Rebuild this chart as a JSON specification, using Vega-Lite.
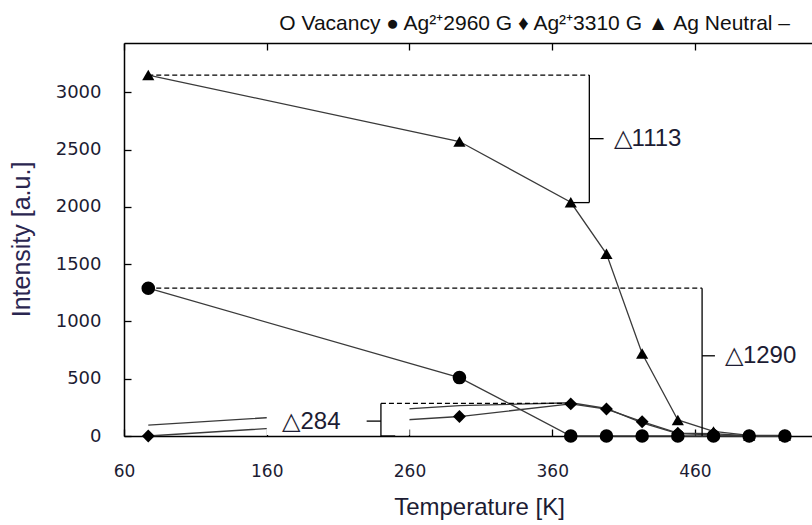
{
  "$schema": "https://vega.github.io/schema/vega-lite/v6.json",
  "autosize": "none",
  "width": 688,
  "height": 393,
  "padding": {"left": 124, "top": 43, "right": 0, "bottom": 89},
  "background": "white",
  "config": {
    "view": {"stroke": null},
    "axis": {"grid": false, "domainColor": "#000", "domainWidth": 1.5, "tickColor": "#000", "tickWidth": 1.3, "zindex": 1}
  },
  "title": {
    "text": "O Vacancy ● Ag²⁺2960 G ♦ Ag²⁺3310 G ▲  Ag Neutral –",
    "anchor": "end", "frame": "group", "dx": -22, "dy": 23,
    "font": "Liberation Sans", "fontSize": 21, "fontWeight": "normal",
    "color": "#111", "baseline": "alphabetic", "offset": 14
  },
  "datasets": {
    "series": [
      {"s": "O Vacancy", "T": 77, "I": 1290},
      {"s": "O Vacancy", "T": 295, "I": 510},
      {"s": "O Vacancy", "T": 373, "I": 0},
      {"s": "O Vacancy", "T": 398, "I": 0},
      {"s": "O Vacancy", "T": 423, "I": 0},
      {"s": "O Vacancy", "T": 448, "I": 0},
      {"s": "O Vacancy", "T": 473, "I": 0},
      {"s": "O Vacancy", "T": 498, "I": 0},
      {"s": "O Vacancy", "T": 523, "I": 0},
      {"s": "Ag2+ 2960 G", "T": 77, "I": 0},
      {"s": "Ag2+ 2960 G", "T": 295, "I": 170},
      {"s": "Ag2+ 2960 G", "T": 373, "I": 280},
      {"s": "Ag2+ 2960 G", "T": 398, "I": 235},
      {"s": "Ag2+ 2960 G", "T": 423, "I": 125},
      {"s": "Ag2+ 2960 G", "T": 448, "I": 25},
      {"s": "Ag2+ 2960 G", "T": 473, "I": 20},
      {"s": "Ag2+ 2960 G", "T": 498, "I": 0},
      {"s": "Ag2+ 2960 G", "T": 523, "I": 0},
      {"s": "Ag2+ 3310 G", "T": 77, "I": 3150},
      {"s": "Ag2+ 3310 G", "T": 295, "I": 2570},
      {"s": "Ag2+ 3310 G", "T": 373, "I": 2040},
      {"s": "Ag2+ 3310 G", "T": 398, "I": 1590},
      {"s": "Ag2+ 3310 G", "T": 423, "I": 720},
      {"s": "Ag2+ 3310 G", "T": 448, "I": 140},
      {"s": "Ag2+ 3310 G", "T": 473, "I": 40},
      {"s": "Ag2+ 3310 G", "T": 498, "I": 5},
      {"s": "Ag2+ 3310 G", "T": 523, "I": 5},
      {"s": "Ag Neutral", "T": 77, "I": 95},
      {"s": "Ag Neutral", "T": 295, "I": 265},
      {"s": "Ag Neutral", "T": 373, "I": 290},
      {"s": "Ag Neutral", "T": 398, "I": 240},
      {"s": "Ag Neutral", "T": 423, "I": 115},
      {"s": "Ag Neutral", "T": 448, "I": 20},
      {"s": "Ag Neutral", "T": 473, "I": 10},
      {"s": "Ag Neutral", "T": 498, "I": 0},
      {"s": "Ag Neutral", "T": 523, "I": 0}
    ],
    "mask": [{"x": 160, "x2": 260, "y": 8, "y2": 330}],
    "solid": [
      {"x": 386, "x2": 386, "y": 3150, "y2": 2037},
      {"x": 386, "x2": 396, "y": 2595, "y2": 2595},
      {"x": 373, "x2": 386, "y": 2037, "y2": 2037},
      {"x": 465, "x2": 465, "y": 1290, "y2": 0},
      {"x": 465, "x2": 474, "y": 700, "y2": 700},
      {"x": 240, "x2": 240, "y": 284, "y2": 0},
      {"x": 230, "x2": 240, "y": 130, "y2": 130},
      {"x": 240, "x2": 250, "y": 0, "y2": 0}
    ],
    "dashed": [
      {"x": 77, "x2": 386, "y": 3150, "y2": 3150},
      {"x": 77, "x2": 465, "y": 1290, "y2": 1290},
      {"x": 240, "x2": 373, "y": 284, "y2": 284}
    ],
    "labels": [
      {"x": 403, "y": 2590, "t": "△1113"},
      {"x": 481, "y": 700, "t": "△1290"},
      {"x": 171, "y": 122, "t": "△284"}
    ]
  },
  "resolve": {"axis": {"x": "independent"}},
  "layer": [
    {
      "data": {"name": "series"},
      "mark": {"type": "line", "color": "#3a3a3a", "strokeWidth": 1.3},
      "encoding": {
        "x": {"field": "T", "type": "quantitative", "scale": {"domain": [60, 542], "nice": false, "zero": false},
          "axis": {"orient": "bottom", "values": [60, 160, 260, 360, 460], "format": "d", "tickSize": -7, "labelPadding": 34,
            "labelFont": "DejaVu Sans", "labelFontSize": 17, "labelColor": "#1c1c33", "labelFlush": false,
            "title": "Temperature [K]", "titleFont": "Liberation Sans", "titleFontSize": 24, "titleFontWeight": "normal",
            "titleColor": "#1c1c33", "titleX": 355, "titleY": 78, "titleBaseline": "alphabetic", "titleAlign": "center"}},
        "y": {"field": "I", "type": "quantitative", "scale": {"domain": [0, 3430], "nice": false},
          "axis": {"values": [0, 500, 1000, 1500, 2000, 2500, 3000], "format": "d", "tickSize": -7, "labelPadding": 30,
            "labelFont": "DejaVu Sans", "labelFontSize": 18, "labelColor": "#1c1c33",
            "title": "Intensity [a.u.]", "titleFont": "Liberation Sans", "titleFontSize": 25, "titleFontWeight": "normal",
            "titleColor": "#2a2650", "titleX": -95, "titleY": 196, "titleBaseline": "alphabetic", "titleAlign": "center", "titleAngle": -90}},
        "detail": {"field": "s"},
        "order": {"field": "T", "type": "quantitative"}
      }
    },
    {
      "data": {"name": "series"},
      "mark": {"type": "point", "filled": true, "opacity": 1, "color": "#000", "stroke": "#000"},
      "encoding": {
        "x": {"field": "T", "type": "quantitative", "axis": null},
        "y": {"field": "I", "type": "quantitative"},
        "shape": {"field": "s", "type": "nominal", "legend": null,
          "scale": {"domain": ["O Vacancy", "Ag2+ 2960 G", "Ag2+ 3310 G", "Ag Neutral"], "range": ["circle", "diamond", "triangle-up", "stroke"]}},
        "size": {"field": "s", "type": "nominal", "legend": null,
          "scale": {"domain": ["O Vacancy", "Ag2+ 2960 G", "Ag2+ 3310 G", "Ag Neutral"], "range": [185, 130, 170, 196]}},
        "strokeWidth": {"field": "s", "type": "nominal", "legend": null,
          "scale": {"domain": ["O Vacancy", "Ag2+ 2960 G", "Ag2+ 3310 G", "Ag Neutral"], "range": [0, 0, 0, 3.5]}}
      }
    },
    {
      "data": {"name": "mask"},
      "mark": {"type": "rect", "fill": "white", "stroke": null},
      "encoding": {
        "x": {"field": "x", "type": "quantitative",
          "axis": {"orient": "top", "values": [60, 160, 260, 360, 460], "tickSize": -7, "labels": false, "title": null}},
        "x2": {"field": "x2"},
        "y": {"field": "y", "type": "quantitative"},
        "y2": {"field": "y2"}
      }
    },
    {
      "data": {"name": "solid"},
      "mark": {"type": "rule", "color": "#000", "strokeWidth": 1.3},
      "encoding": {
        "x": {"field": "x", "type": "quantitative", "axis": null},
        "x2": {"field": "x2"},
        "y": {"field": "y", "type": "quantitative"},
        "y2": {"field": "y2"}
      }
    },
    {
      "data": {"name": "dashed"},
      "mark": {"type": "rule", "color": "#000", "strokeWidth": 1.3, "strokeDash": [5, 3]},
      "encoding": {
        "x": {"field": "x", "type": "quantitative", "axis": null},
        "x2": {"field": "x2"},
        "y": {"field": "y", "type": "quantitative"},
        "y2": {"field": "y2"}
      }
    },
    {
      "data": {"name": "labels"},
      "mark": {"type": "text", "align": "left", "baseline": "middle", "font": "Liberation Sans", "fontSize": 24, "color": "#1c1c33"},
      "encoding": {
        "x": {"field": "x", "type": "quantitative", "axis": null},
        "y": {"field": "y", "type": "quantitative"},
        "text": {"field": "t"}
      }
    }
  ]
}
